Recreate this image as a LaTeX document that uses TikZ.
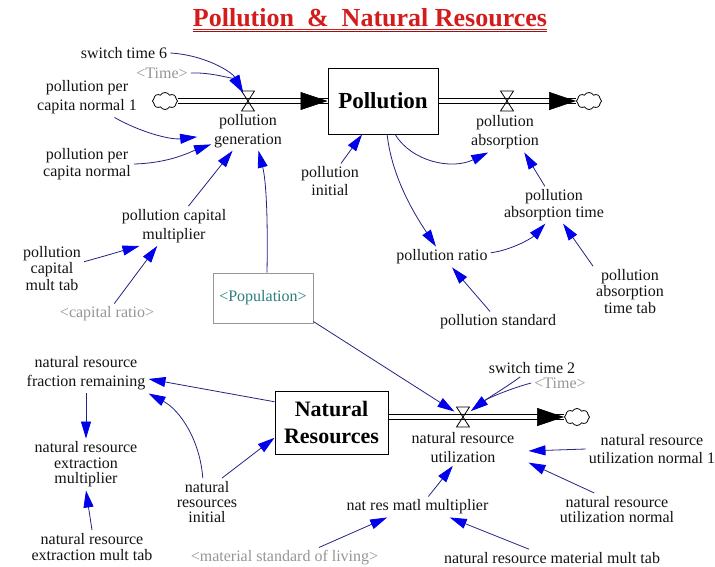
\documentclass[tikz,border=0pt]{standalone}
\usepackage{fontspec}
\setmainfont{Liberation Serif}
\usetikzlibrary{arrows.meta,shapes.symbols}
\definecolor{linkline}{RGB}{35,35,130}
\definecolor{linkhead}{RGB}{0,0,235}
\definecolor{ghostgray}{RGB}{150,150,150}
\definecolor{titlered}{RGB}{212,28,28}
\definecolor{titledark}{RGB}{150,20,20}
\definecolor{popteal}{RGB}{45,125,125}
\tikzset{
  avar/.style={font=\fontsize{16}{17.5}\selectfont, align=center, inner sep=3pt, text=black!92},
  linegap/.style={font=\fontsize{16}{#1}\selectfont},
  ghost/.style={avar, text=ghostgray},
  stock/.style={draw, line width=1pt, align=center, inner sep=0pt},
  popbox/.style={draw=ghostgray, line width=0.7pt, minimum width=100pt, minimum height=50pt,
    inner sep=0pt, text=popteal, font=\fontsize{16}{17.5}\selectfont},
  link/.style={draw=linkline, line width=0.8pt, -{Triangle[length=17pt,width=10pt,color=linkhead]}},
  pipe/.style={draw=black, line width=1.1pt, double=white, double distance=3.6pt},
  flowhead/.style={-{Triangle[length=27pt,width=18pt]}, line width=0.6pt},
  valve/.style={draw, line width=0.8pt},
  valvept/.style={circle, minimum size=20pt, inner sep=0pt},
  cloudnode/.style={cloud, cloud puffs=8, cloud puff arc=120, aspect=1.4, draw, line width=0.8pt,
    minimum width=25pt, minimum height=17pt, inner sep=0pt, fill=white},
}
\begin{document}
\begin{tikzpicture}[x=1pt,y=-1pt]
\useasboundingbox (0,0) rectangle (715,566);
\fill[white] (0,0) rectangle (715,566);

% title
\node[anchor=base, inner sep=0pt, text=titlered, font=\bfseries\fontsize{26}{30}\selectfont]
  (title) at (370,26) {Pollution\ \ \&\ \ Natural Resources};
\draw[titlered, line width=1.6pt] ([yshift=-3.6pt]title.base west) -- ([yshift=-3.6pt]title.base east);
\draw[titledark, line width=1.1pt] ([yshift=-5.2pt]title.base west) -- ([yshift=-5.2pt]title.base east);

% stocks
\node[stock, minimum width=110pt, minimum height=66pt, font=\bfseries\fontsize{23}{27}\selectfont]
  (pbox) at (383,101) {Pollution};
\node[stock, minimum width=113pt, minimum height=63pt, font=\bfseries\fontsize{22}{27}\selectfont]
  (nrbox) at (331.5,422.5) {Natural\\Resources};

% sources and sinks
\node[cloudnode] (c1) at (165,101) {};
\node[cloudnode] (c2) at (589,101) {};
\node[cloudnode] (c3) at (577,417) {};

% valve centres
\node[valvept] (v1) at (248,101) {};
\node[valvept] (v2) at (507,101) {};
\node[valvept] (v3) at (463,417) {};

% pipes
\draw[pipe] (c1.east) -- (pbox.west);
\draw[flowhead] ([xshift=-27pt]pbox.west) -- (pbox.west);
\draw[pipe] (pbox.east) -- (c2.west);
\draw[flowhead] ([xshift=-27pt]c2.west) -- (c2.west);
\draw[pipe] ([yshift=5.5pt]nrbox.east) -- (c3.west);
\draw[flowhead] ([xshift=-27pt]c3.west) -- (c3.west);

% valves
\foreach \v in {v1,v2,v3}
  \draw[valve] (\v.center) +(-6.5,-10) -- +(6.5,-10) -- +(-6.5,10) -- +(6.5,10) -- cycle;

% pollution sector variables
\node[avar] (sw6) at (124,53) {switch time 6};
\node[ghost] (time1) at (162,73) {<Time>};
\node[avar, linegap=19] (ppcn1) at (87,97.5) {pollution per\\capita normal 1};
\node[avar] (ppcn) at (87,164) {pollution per\\capita normal};
\node[avar, linegap=18.5] (pg) at (248,131) {pollution\\generation};
\node[avar, linegap=19] (pcm) at (174,226) {pollution capital\\multiplier};
\node[avar, linegap=16.5] (pcmt) at (52,268.5) {pollution\\capital\\mult tab};
\node[ghost] (capr) at (107,314) {<capital ratio>};
\node[popbox] (pop) at (263,298) {<Population>};
\node[avar] (pinit) at (330,181) {pollution\\initial};
\node[avar, linegap=19] (pa) at (505,132.5) {pollution\\absorption};
\node[avar, linegap=16.5] (pat) at (554,205) {pollution\\absorption time};
\node[avar] (pr) at (442,257) {pollution ratio};
\node[avar] (pstd) at (498,322) {pollution standard};
\node[avar, linegap=16.5] (patt) at (630,291.5) {pollution\\absorption\\time tab};

% natural resource sector variables
\node[avar, linegap=19] (nrfr) at (86,373.5) {natural resource\\fraction remaining};
\node[avar, linegap=15.5] (nrem) at (86,464.5) {natural resource\\extraction\\multiplier};
\node[avar, linegap=16] (nremt) at (92,547) {natural resource\\extraction mult tab};
\node[avar, linegap=15] (nri) at (207,502) {natural\\resources\\initial};
\node[ghost] (msl) at (284.5,558) {<material standard of living>};
\node[avar] (nrmm) at (417.5,507) {nat res matl multiplier};
\node[avar] (nrmmt) at (552,558) {natural resource material mult tab};
\node[avar] (sw2) at (532,368) {switch time 2};
\node[ghost] (time2) at (560,383) {<Time>};
\node[avar, linegap=19, inner xsep=14pt] (nru) at (463,447.5) {natural resource\\utilization};
\node[avar, linegap=18] (nrun1) at (652,449) {natural resource\\utilization normal 1};
\node[avar, linegap=15.5] (nrun) at (617,509.5) {natural resource\\utilization normal};

% links: pollution sector
\draw[link] (sw6.east) .. controls (205,55) and (232,72) .. (v1);
\draw[link] (time1.east) .. controls (212,72) and (235,80) .. (v1);
\draw[link, shorten >=14pt] (ppcn1.-36) .. controls (140,132) and (170,140) .. (pg);
\draw[link] (ppcn.east) .. controls (170,163) and (190,152) .. (pg);
\draw[link] (pcm.54) -- (pg.-128);
\draw[link] ([xshift=4pt]pop.north) .. controls (268,215) and (266,180) .. (pg.-62);
\draw[link] (pcmt.12) .. controls (105,256) and (125,250) .. (pcm.-150);
\draw[link] (capr.55) -- (pcm.-130);
\draw[link] (pinit.58) -- (pbox.-122);
\draw[link] (pbox.-70) .. controls (412,162) and (452,170) .. (pa.-130);
\draw[link] (pbox.-83) .. controls (392,178) and (415,215) .. (pr.120);
\draw[link] (pr.5) .. controls (512,250) and (532,238) .. (pat.-115);
\draw[link] (pat.116) -- (pa.-46);
\draw[link] (patt.north west) -- (pat.-64);
\draw[link] (pstd.127) -- (pr.-46);

% links: natural resource sector
\draw[link] (pop.-25) -- (v3);
\draw[link] (sw2.-143) .. controls (505,388) and (488,398) .. (v3);
\draw[link] (time2.west) .. controls (512,388) and (488,398) .. (v3);
\draw[link] (nrbox.160) -- (nrfr.-5);
\draw[link] (nri.100) .. controls (200,440) and (180,410) .. (nrfr.south east);
\draw[link] (nri.58) -- (nrbox.-165);
\draw[link] (nrfr.south) -- (nrem.north);
\draw[link] (nremt.north) -- (nrem.south);
\draw[link] (msl.17) -- (nrmm.-161);
\draw[link] (nrmm.44) -- (nru.-119);
\draw[link] (nrmmt.159) -- (nrmm.-18);
\draw[link] (nrun1.west) -- (nru.-3);
\draw[link] (nrun.144) -- (nru.-13);
\end{tikzpicture}
\end{document}
